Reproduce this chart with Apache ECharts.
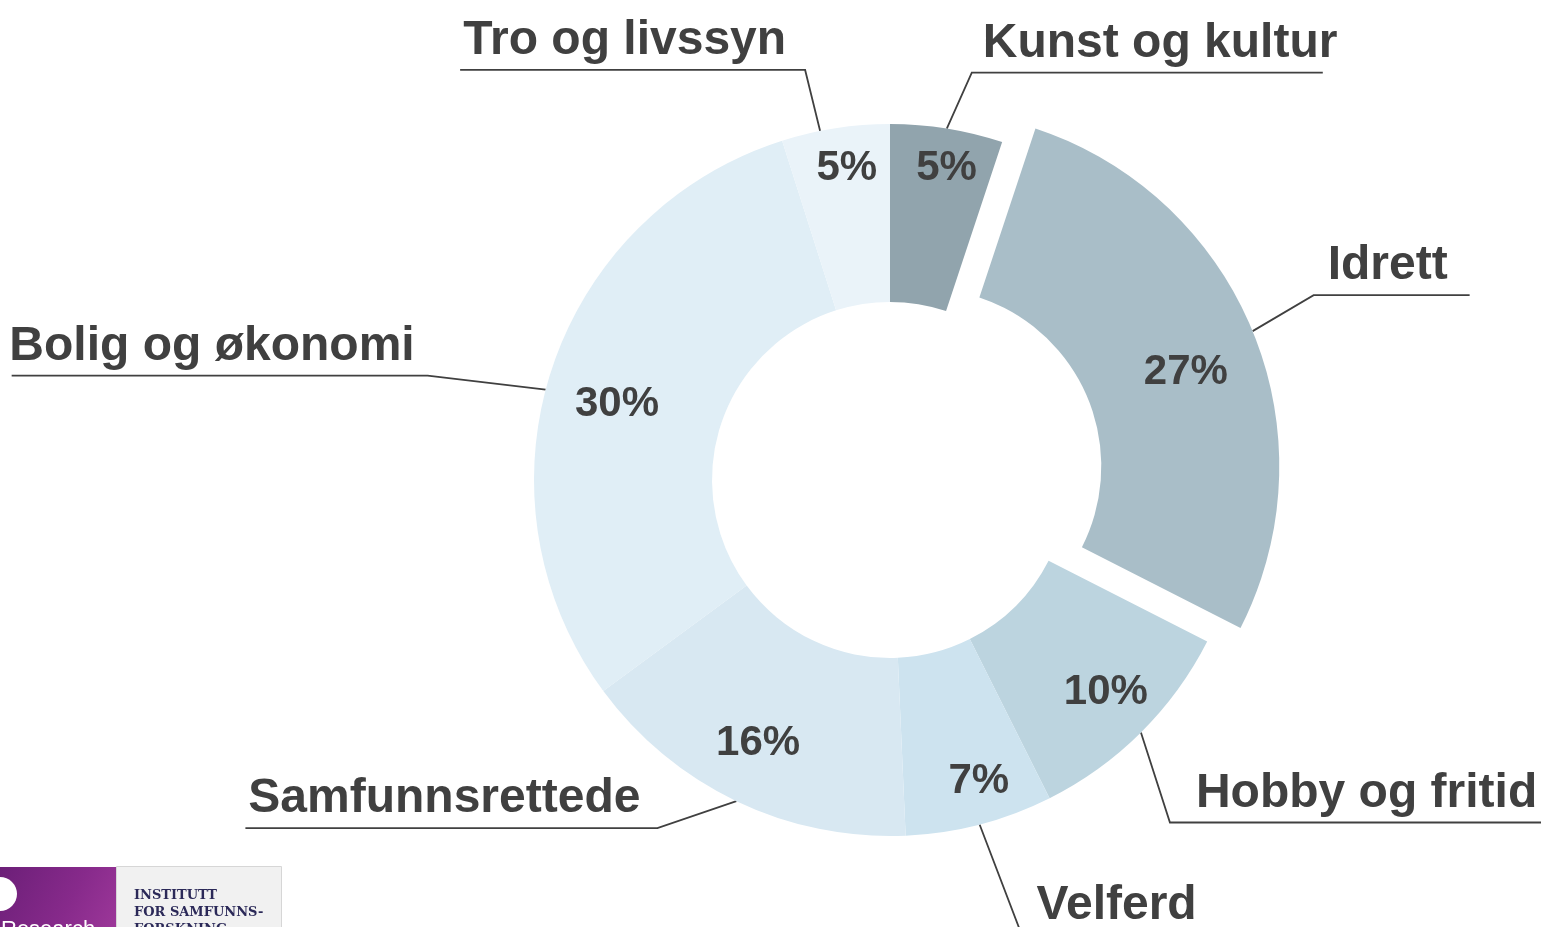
<!DOCTYPE html>
<html>
<head>
<meta charset="utf-8">
<script src="https://cdn.jsdelivr.net/npm/echarts@6/dist/echarts.min.js"></script>
<style>
html,body{margin:0;padding:0;background:#ffffff;overflow:hidden}
#chart{width:1541px;height:927px}
</style>
</head>
<body>
<div id="chart"></div>
<script>
// ---- data ----
const categories = ['Kunst og kultur', 'Idrett', 'Hobby og fritid', 'Velferd', 'Samfunnsrettede', 'Bolig og økonomi', 'Tro og livssyn'];
const shares = [5.1, 27.4, 10.1, 6.7, 15.6, 30.2, 4.9];
const exploded = [false, true, false, false, false, false, false];

// ---- styling / layout config ----
const colors = ['#91a4ad', '#a9bec8', '#bcd4df', '#cde3ef', '#d8e8f2', '#e0eef6', '#eaf3f9'];
const lineStartDelta = [0, 0, 0, 0, 0, -3.3, -2.5];
const bendOffsets = [[25, -56], [61, -36], [29, 90], [42, 110], [-79, 27], [-118, -14], [-15, -61]];
const runLengths = [351, 156, 420, 200, 412, 416, 345];
const textGaps = [11, 14, 26, 15, 17, 13, 19];
const pctRadius = [320, 280, 301, 311, 292, 284, 318];
const pctAngleDelta = [1, 2, -1, -2, 1.3, -2, 1];

const CX = 890, CY = 480, R0 = 178, R1 = 356, OFFSET = 36;
const TEXT = '#404040';
const FONT = 'Liberation Sans, Arial, sans-serif';
const TRANSPARENT = 'rgba(0,0,0,0)';

// centre shift of the exploded slice, along its mid angle (from the data)
const total = shares.reduce((a, b) => a + b, 0);
const ei = exploded.indexOf(true);
let before = 0;
for (let j = 0; j < ei; j++) before += shares[j];
const explAng = (before + shares[ei] / 2) / total * 2 * Math.PI; // clockwise from top
const SHIFT_X = OFFSET * Math.sin(explAng);
const SHIFT_Y = -OFFSET * Math.cos(explAng);

const outsideLabel = {
  show: true,
  position: 'outside',
  formatter: '{b}',
  fontSize: 48,
  fontWeight: 'bold',
  fontFamily: FONT,
  color: TEXT
};
const outsideLine = {
  show: true,
  length: 20,
  length2: 10,
  lineStyle: {color: TEXT, width: 1.8}
};
function outsideLayout(p) {
  const i = p.dataIndex;
  const pts = p.labelLinePoints;
  if (!pts || !pts.length) return {};
  let p0 = pts[0];
  if (lineStartDelta[i] && !exploded[i]) {
    const a = Math.atan2(p0[1] - CY, p0[0] - CX) + lineStartDelta[i] * Math.PI / 180;
    const rr = Math.hypot(p0[0] - CX, p0[1] - CY);
    p0 = [CX + rr * Math.cos(a), CY + rr * Math.sin(a)];
  }
  const b = [p0[0] + bendOffsets[i][0], p0[1] + bendOffsets[i][1]];
  const dir = bendOffsets[i][0] >= 0 ? 1 : -1;
  const end = [b[0] + dir * runLengths[i], b[1]];
  return {
    x: b[0] + dir * textGaps[i],
    y: b[1] - 5,
    align: dir > 0 ? 'left' : 'right',
    verticalAlign: 'bottom',
    labelLinePoints: [p0, b, end]
  };
}

function ringSeries(showExploded, center) {
  return {
    type: 'pie',
    center: center,
    radius: [R0, R1],
    startAngle: 90,
    clockwise: true,
    avoidLabelOverlap: false,
    silent: true,
    emphasis: {disabled: true},
    itemStyle: {borderWidth: 0},
    data: categories.map((n, i) => {
      const visible = exploded[i] === showExploded;
      return {
        name: n,
        value: shares[i],
        itemStyle: {color: visible ? colors[i] : TRANSPARENT},
        label: {show: visible},
        labelLine: {show: visible}
      };
    }),
    label: outsideLabel,
    labelLine: outsideLine,
    labelLayout: outsideLayout
  };
}

const chart = echarts.init(document.getElementById('chart'), null, {renderer: 'canvas'});

const option = {
  backgroundColor: '#ffffff',
  animation: false,
  series: [
    ringSeries(false, [CX, CY]),
    ringSeries(true, [CX + SHIFT_X, CY + SHIFT_Y]),
    {
      type: 'pie',
      center: [CX, CY],
      radius: [R0, R1],
      startAngle: 90,
      clockwise: true,
      silent: true,
      avoidLabelOverlap: false,
      emphasis: {disabled: true},
      z: 5,
      data: categories.map((n, i) => ({
        name: n,
        value: shares[i],
        itemStyle: {color: TRANSPARENT, borderWidth: 0}
      })),
      label: {
        show: true,
        position: 'inside',
        formatter: p => Math.round(p.value) + '%',
        fontSize: 42,
        fontWeight: 'bold',
        fontFamily: FONT,
        color: TEXT
      },
      labelLine: {show: false},
      labelLayout: function (p) {
        const i = p.dataIndex;
        const r = p.labelRect;
        const mx = r.x + r.width / 2, my = r.y + r.height / 2;
        const ang = Math.atan2(my - CY, mx - CX) + pctAngleDelta[i] * Math.PI / 180;
        const rad = pctRadius[i];
        return {
          x: CX + rad * Math.cos(ang) + (exploded[i] ? SHIFT_X : 0),
          y: CY + rad * Math.sin(ang) + (exploded[i] ? SHIFT_Y : 0) + 3,
          align: 'center',
          verticalAlign: 'middle'
        };
      }
    }
  ],
  graphic: [
    {
      type: 'rect',
      shape: {x: 0, y: 867, width: 116, height: 60},
      style: {
        fill: {
          type: 'linear', x: 0, y: 0, x2: 1, y2: 1,
          colorStops: [{offset: 0, color: '#6c1f78'}, {offset: 0.6, color: '#872a8b'}, {offset: 1, color: '#9c3799'}]
        }
      },
      silent: true
    },
    {
      type: 'circle',
      shape: {cx: 0, cy: 894, r: 17},
      style: {fill: '#ffffff'},
      silent: true
    },
    {
      type: 'text',
      x: 1, y: 919,
      style: {text: 'Research', fill: '#ffffff', font: '22px Liberation Sans, Arial, sans-serif'},
      silent: true
    },
    {
      type: 'rect',
      shape: {x: 116.5, y: 866.5, width: 165, height: 62},
      style: {fill: '#f1f1f1', stroke: '#d6d6d6', lineWidth: 1},
      silent: true
    },
    {
      type: 'text',
      x: 134, y: 887,
      style: {
        text: 'INSTITUTT\nFOR SAMFUNNS-\nFORSKNING',
        fill: '#2b2958',
        font: 'bold 13px DejaVu Serif, serif',
        lineHeight: 17
      },
      silent: true
    }
  ]
};

chart.setOption(option);
</script>
</body>
</html>
